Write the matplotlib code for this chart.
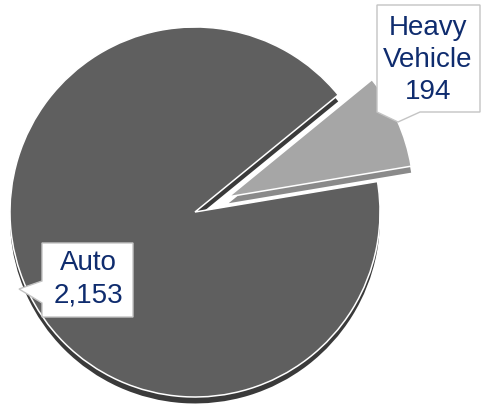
import matplotlib
matplotlib.use("Agg")
import matplotlib.pyplot as plt
from matplotlib.patches import Polygon

plt.rcParams['font.family'] = ['Liberation Sans', 'DejaVu Sans']

categories = ['Heavy\nVehicle', 'Auto']
counts = [194, 2153]
explode = [0.2, 0.0]

face_colors = ['#a6a6a6', '#5f5f5f']
side_colors = ['#8a8a8a', '#3a3a3a']
text_color = '#0f2c6e'

START = 9.5      # degrees, where the first slice begins
DEPTH = 0.035    # thickness of the pie body, in radii

# pixel layout of the figure: pie centre and radius
W, H = 483, 407
CX, CY, R = 195, 212, 185


def px(x, y):
    """figure pixel -> data coords (pie radius = 1)"""
    return ((x - CX) / R, (CY - y) / R)


fig = plt.figure(figsize=(W / 100, H / 100), dpi=100)
ax = fig.add_axes([0, 0, 1, 1])

# body of the pie, shifted down so its sides show under the top face
ax.pie(counts, explode=explode, startangle=START, colors=side_colors,
       center=(0, -DEPTH), wedgeprops=dict(linewidth=0))
# top face
ax.pie(counts, explode=explode, startangle=START, colors=face_colors,
       wedgeprops=dict(edgecolor='white', linewidth=1.1))


def callout(box, tip, base, text, text_xy, spacing):
    """white label box with a pointer; box=(x0,y0,x1,y1) in pixels"""
    x0, y0, x1, y1 = box
    pts = [(x0, y0), (x1, y0), (x1, y1)]
    if base[0] == 'bottom':
        pts += [(base[2], y1), tip, (base[1], y1), (x0, y1)]
    else:
        pts += [(x0, y1), (x0, base[2]), tip, (x0, base[1])]
    poly = Polygon([px(*p) for p in pts], closed=True, facecolor='white',
                   edgecolor='#c4c4c4', linewidth=1.0, zorder=5)
    ax.add_patch(poly)
    tx, ty = px(*text_xy)
    ax.text(tx, ty, text, ha='center', va='center', fontsize=20,
            color=text_color, linespacing=spacing, zorder=6)


labels = [f"{c}\n{v:,}" for c, v in zip(categories, counts)]

callout((377, 5, 480, 112), (398, 122), ('bottom', 377, 420),
        labels[0], (428, 60), 1.3)
callout((42, 243, 133, 317), (19, 289), ('left', 281, 303),
        labels[1], (88, 279), 1.3)

ax.set_xlim(-CX / R, (W - CX) / R)
ax.set_ylim(-(H - CY) / R, CY / R)
ax.set_aspect('auto')
ax.axis('off')

fig.savefig('out.png', dpi=100, facecolor='white')
